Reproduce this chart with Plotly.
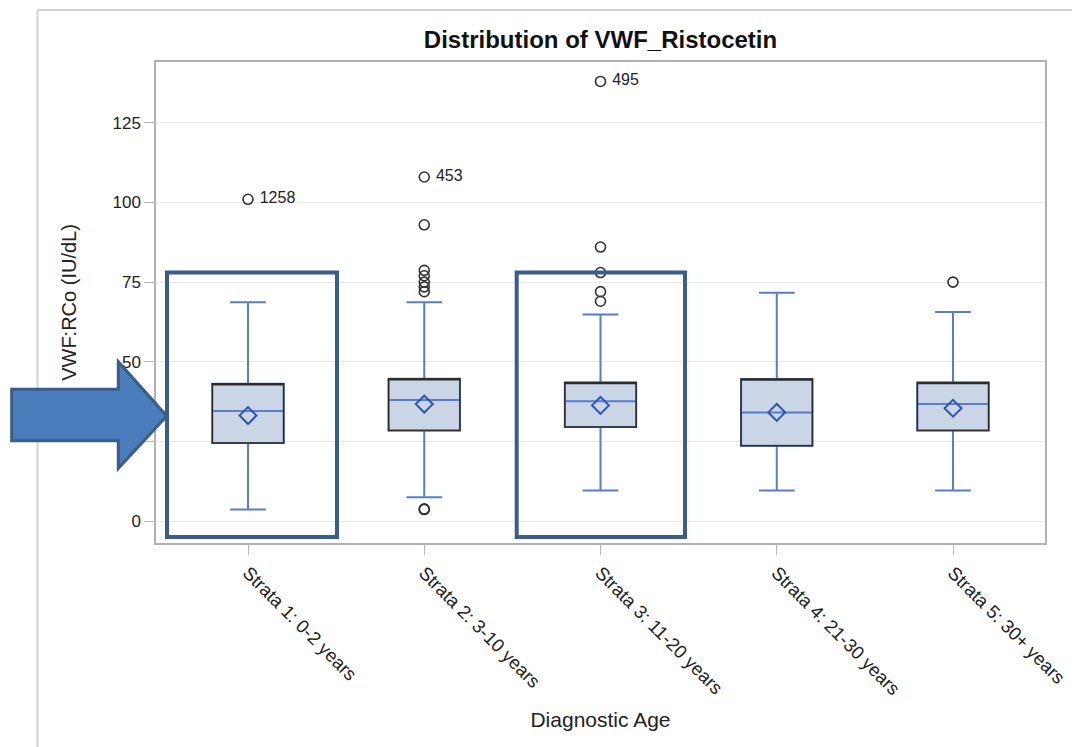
import plotly.graph_objects as go

# ---- data ----
categories = ["Strata 1: 0-2 years", "Strata 2: 3-10 years", "Strata 3: 11-20 years",
              "Strata 4: 21-30 years", "Strata 5: 30+ years"]
q1 = [24.5, 28.4, 29.5, 23.6, 28.4]
median = [34.5, 38.0, 37.6, 34.1, 36.7]
q3 = [43.1, 44.7, 43.5, 44.6, 43.5]
whisker_low = [3.6, 7.5, 9.6, 9.6, 9.6]
whisker_high = [68.7, 68.7, 64.8, 71.7, 65.6]
means = [33.1, 36.7, 36.3, 34.1, 35.4]

outlier_cat = [0, 1, 1, 1, 1, 1, 1, 1, 1, 1, 2, 2, 2, 2, 2, 4]
outlier_val = [101, 3.6, 3.8, 72, 73.5, 75, 77, 78.7, 93, 108, 69, 72, 78, 86, 138, 75]
outlier_lab = ["1258", "", "", "", "", "", "", "", "", "453", "", "", "", "", "495", ""]

y_ticks = [0, 25, 50, 75, 100, 125]

# ---- layout geometry (page has an 8px body margin) ----
OFF = 8
FW, FH = 1080 - OFF, 747 - OFF
L, T = 156 - OFF, 62 - OFF
R = 1080 - 1045
B = 747 - 543
W = FW - L - R
H = FH - T - B


def px(x):
    return (x - OFF - L) / W


def py(y):
    return (T + H - (y - OFF)) / H


FONT = "Liberation Sans, Arial, sans-serif"
xs = list(range(len(categories)))

fig = go.Figure()

# box with whiskers and median (blue)
fig.add_trace(go.Box(
    x=xs, q1=q1, median=median, q3=q3,
    lowerfence=whisker_low, upperfence=whisker_high,
    width=0.405, whiskerwidth=0.5,
    fillcolor="#CAD5E6", line=dict(color="#5A7CCB", width=2),
    boxpoints=False, hoverinfo="skip", showlegend=False,
))
# black outline of the box
fig.add_trace(go.Box(
    x=xs, q1=q1, median=q3, q3=q3,
    lowerfence=q1, upperfence=q3,
    width=0.405, whiskerwidth=0,
    fillcolor="rgba(0,0,0,0)", line=dict(color="#2B2B2B", width=1.5),
    boxpoints=False, hoverinfo="skip", showlegend=False,
))
# means
fig.add_trace(go.Scatter(
    x=xs, y=means, mode="markers",
    marker=dict(symbol="diamond-open", size=13, color="#2F52B5", line=dict(width=2)),
    hoverinfo="skip", showlegend=False,
))
# outliers
fig.add_trace(go.Scatter(
    x=outlier_cat, y=outlier_val, mode="markers+text",
    text=[(" " + t) if t else "" for t in outlier_lab],
    textposition="middle right",
    textfont=dict(family=FONT, size=16, color="#222"),
    marker=dict(symbol="circle-open", size=10, color="#333", line=dict(width=1.6)),
    hoverinfo="skip", showlegend=False,
))

shapes = []
# outer frame
shapes.append(dict(type="line", xref="paper", yref="paper",
                   x0=px(37.5), x1=px(37.5), y0=py(10), y1=py(760),
                   line=dict(color="#D3D3D3", width=2)))
shapes.append(dict(type="line", xref="paper", yref="paper",
                   x0=px(37.5), x1=px(1090), y0=py(10), y1=py(10),
                   line=dict(color="#D3D3D3", width=2)))
# highlight rectangles
for (x0, x1) in [(167, 337), (516.7, 685)]:
    shapes.append(dict(type="rect", xref="paper", yref="paper",
                       x0=px(x0), x1=px(x1), y0=py(537), y1=py(272.5),
                       line=dict(color="#3C5D8C", width=4),
                       fillcolor="rgba(0,0,0,0)"))
# arrow
pts = [(11.7, 389.3), (118.3, 389.3), (118.3, 361.7), (166.7, 416),
       (118.3, 468.3), (118.3, 440.7), (11.7, 440.7)]
path = "M " + " L ".join(f"{px(a):.5f},{py(b):.5f}" for a, b in pts) + " Z"
shapes.append(dict(type="path", xref="paper", yref="paper", path=path,
                   fillcolor="#4A7DBB", line=dict(color="#385D8A", width=3)))

fig.update_layout(
    width=FW, height=FH,
    margin=dict(l=L, r=R, t=T, b=B),
    paper_bgcolor="white", plot_bgcolor="white",
    font=dict(family=FONT, color="#222"),
    title=dict(text="<b>Distribution of VWF_Ristocetin</b>",
               x=0.5, xref="paper", xanchor="center",
               y=1 - (40 - OFF) / FH, yref="container", yanchor="middle",
               font=dict(family=FONT, size=24, color="#111")),
    boxmode="overlay",
    shapes=shapes,
)
fig.update_xaxes(
    range=[-0.522, 4.522], tickmode="array", tickvals=xs, ticktext=categories,
    tickangle=45, ticks="outside", ticklen=10, tickcolor="#B8B8B8",
    tickfont=dict(family=FONT, size=18.5, color="#222"),
    showgrid=False, zeroline=False,
    showline=True, linecolor="#AEB2B6", linewidth=1.5, mirror=True,
    title=dict(text="Diagnostic Age", font=dict(family=FONT, size=21, color="#222"), standoff=14),
)
fig.update_yaxes(
    range=[-6.9, 144.1], tickmode="array", tickvals=y_ticks,
    ticks="outside", ticklen=10, tickcolor="#B8B8B8",
    tickfont=dict(family=FONT, size=17, color="#222"),
    showgrid=True, gridcolor="#E8E8E8", gridwidth=1, zeroline=False,
    showline=True, linecolor="#AEB2B6", linewidth=1.5, mirror=True,
    title=dict(text="VWF:RCo (IU/dL)", font=dict(family=FONT, size=20, color="#222"), standoff=30),
)

fig.write_html("out.html")
